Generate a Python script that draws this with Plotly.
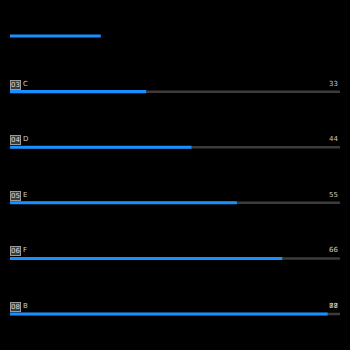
import plotly.graph_objects as go

ranks = ["03", "04", "05", "06", "08"]
names = ["C", "D", "E", "F", "B"]
values = [33, 44, 55, 66, 77]
value_labels = ["33", "44", "55", "66", "88"]
ghost_labels = ["", "", "", "", "77"]
track_max = 80
entering_value = 22  # bar animating in at the top row

rows = list(range(1, len(values) + 1))

fig = go.Figure()
# gray tracks
fig.add_trace(go.Bar(x=[track_max] * len(values), y=rows, orientation="h",
                     width=0.045, marker=dict(color="#3c3c3c", line=dict(width=0)),
                     hoverinfo="skip"))
# blue value bars
fig.add_trace(go.Bar(x=values, y=rows, orientation="h", width=0.055,
                     marker=dict(color="#1890ff", line=dict(width=0)),
                     hoverinfo="skip"))
# entering bar (top)
fig.add_trace(go.Bar(x=[entering_value], y=[0], orientation="h", width=0.055,
                     marker=dict(color="#1890ff", line=dict(width=0)),
                     hoverinfo="skip"))

ann = []
for r, n, v, lab, g in zip(ranks, names, rows, value_labels, ghost_labels):
    ann.append(dict(x=0, y=v, xref="x", yref="y", text=r, showarrow=False,
                    xanchor="left", yanchor="bottom", yshift=2, xshift=0,
                    font=dict(size=7, color="#dddddd", family="DejaVu Sans"),
                    bgcolor="#3a3a3a", bordercolor="#9a9a9a", borderwidth=1, borderpad=0))
    ann.append(dict(x=0, y=v, xref="x", yref="y", text=n, showarrow=False,
                    xanchor="left", yanchor="bottom", yshift=2, xshift=11,
                    font=dict(size=7, color="#cccccc", family="DejaVu Sans")))
    ann.append(dict(x=track_max, y=v, xref="x", yref="y", text=lab, showarrow=False,
                    xanchor="right", yanchor="bottom", yshift=2,
                    font=dict(size=7, color="#cccccc", family="DejaVu Sans")))
    if g:
        ann.append(dict(x=track_max, y=v, xref="x", yref="y", text=g, showarrow=False,
                        xanchor="right", yanchor="bottom", yshift=2,
                        font=dict(size=7, color="#cccccc", family="DejaVu Sans")))

fig.update_layout(
    width=350, height=350, margin=dict(l=0, r=0, t=0, b=0),
    paper_bgcolor="#000000", plot_bgcolor="#000000",
    barmode="overlay", showlegend=False, annotations=ann,
    xaxis=dict(range=[-2.424, 82.42], visible=False, fixedrange=True),
    yaxis=dict(range=[5.647, -0.648], visible=False, fixedrange=True),
)
fig.write_html("out.html", config={"displayModeBar": False})
